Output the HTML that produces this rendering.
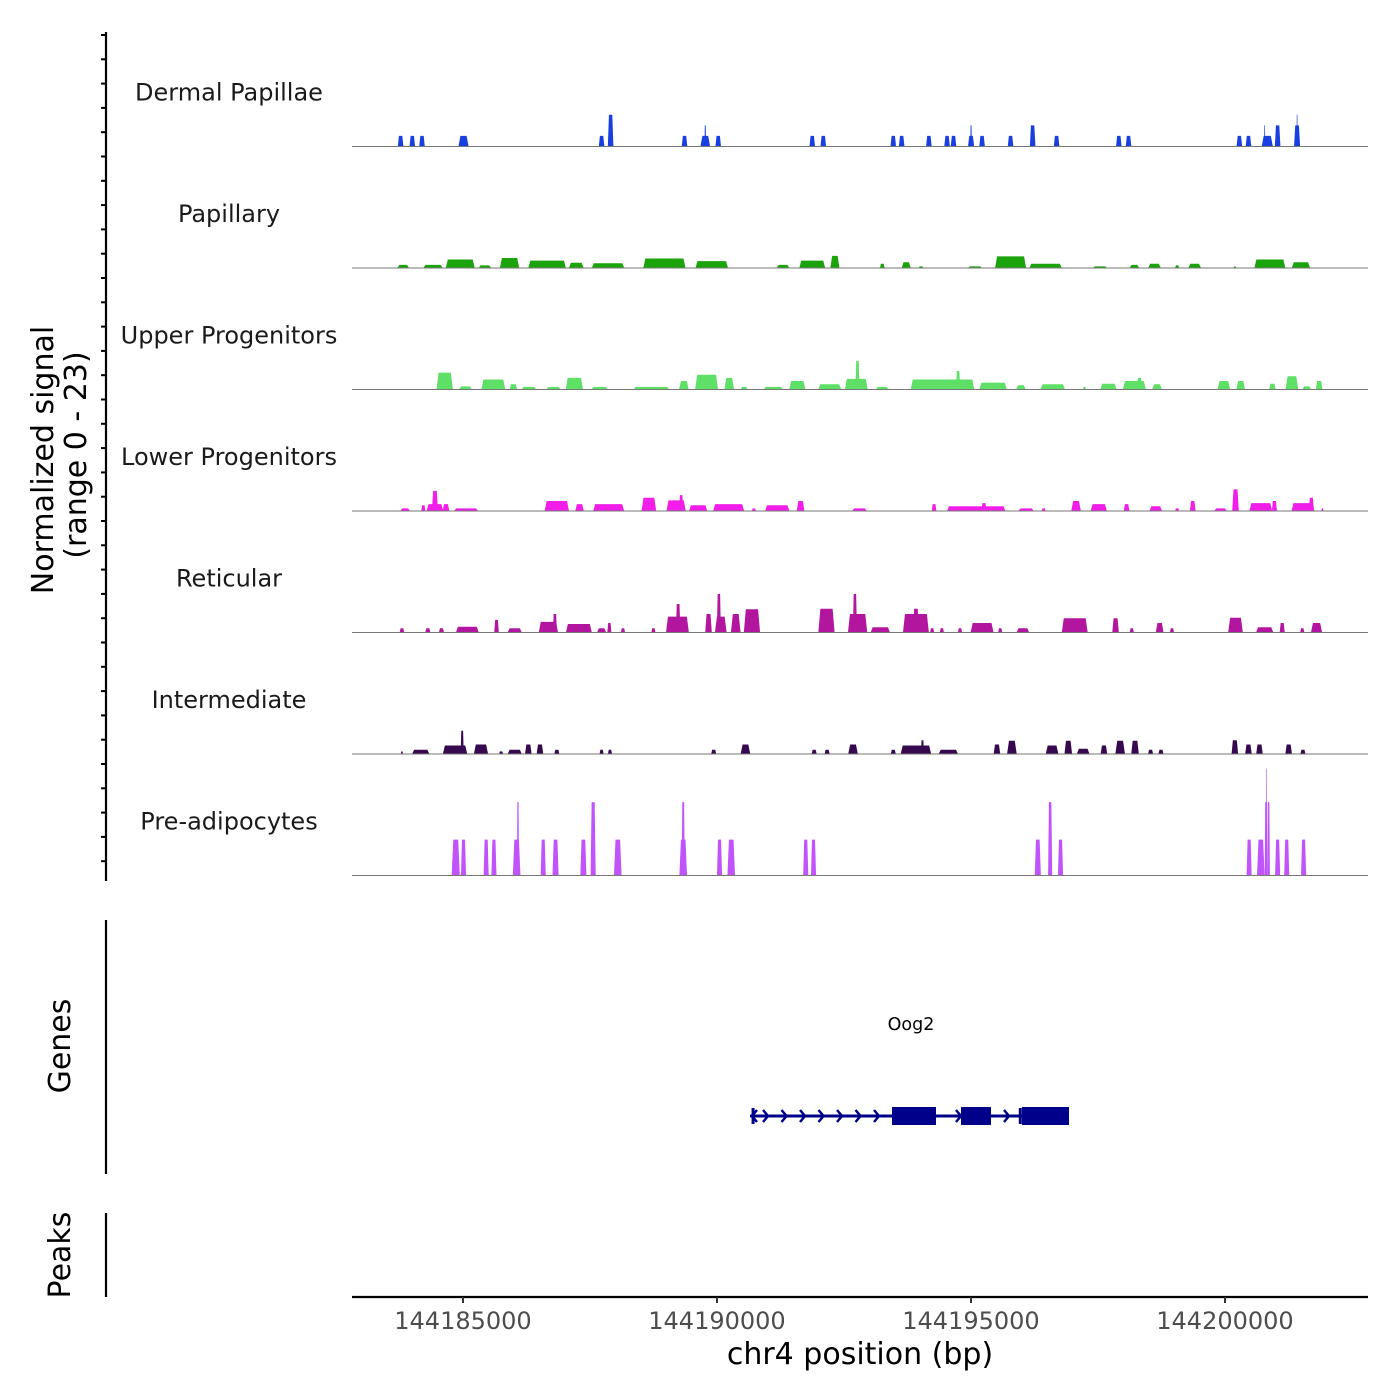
<!DOCTYPE html>
<html><head><meta charset="utf-8"><style>
html,body{margin:0;padding:0;background:#fff;width:1400px;height:1400px;overflow:hidden}
svg{display:block;font-family:"DejaVu Sans","Liberation Sans",sans-serif}
</style></head><body>
<svg id="chart" width="1400" height="1400" xmlns="http://www.w3.org/2000/svg"></svg>
<script>
// region and axis data
const regionStart = 144182815;
const regionEnd = 144202815;
const xTicks = [144185000, 144190000, 144195000, 144200000];
const yMax = 23;
const trackNames = ["Dermal Papillae","Papillary","Upper Progenitors","Lower Progenitors","Reticular","Intermediate","Pre-adipocytes"];
const trackColors = ["#1a3fe0","#1aa30a","#5ee066","#f01ee8","#b3169e","#36094f","#c153fa"];
// peaks per track: [offset bp from regionStart (center), width bp, value]
const dermalPeaks = [[957,110,2],[1187,110,2],[1378,110,2],[2195,200,2],[4913,110,2],[5091,110,6],[6546,110,2],[6954,190,2],[6954,30,4],[7209,110,2],[9060,110,2],[9277,110,2],[10655,110,2],[10820,110,2],[11356,110,2],[11714,110,2],[11841,110,2],[12186,120,2],[12186,30,4],[12403,110,2],[12964,110,2],[13398,110,4],[13870,110,2],[15095,110,2],[15286,110,2],[17468,110,2],[17647,110,2],[18017,220,2],[17966,20,4],[18221,110,4],[18604,120,4],[18604,20,6]];
const papillaryPeaks = [[1008,230,0.6],[1595,380,0.6],[2131,570,1.6],[2616,250,0.5],[3101,380,1.9],[3841,740,1.4],[4415,290,1.0],[5040,640,0.9],[6150,830,1.8],[7082,640,1.3],[8485,250,0.6],[9060,510,1.4],[9506,180,2.3],[10438,90,0.8],[10910,180,1.1],[11203,90,0.3],[12262,280,0.3],[12964,610,2.2],[13653,640,0.8],[14725,280,0.3],[15401,190,0.6],[15797,250,0.8],[16243,80,0.5],[16588,250,0.8],[17379,50,0.3],[18068,610,1.6],[18680,360,1.1]];
const upperPeaks = [[1825,320,3.2],[2233,250,0.6],[2782,470,1.9],[3177,150,1.0],[3483,290,0.5],[3968,280,0.5],[4377,340,2.2],[4874,320,0.5],[5895,700,0.5],[6533,190,1.6],[6980,450,2.8],[7426,190,2.2],[7720,130,0.5],[8294,380,0.5],[8766,320,1.6],[9404,450,1.0],[9927,450,2.0],[9950,80,5.4],[10438,250,0.5],[11624,1250,1.9],[11931,80,3.5],[12620,540,1.3],[13168,190,0.8],[13794,480,1.0],[14419,60,0.5],[14891,320,1.1],[15401,450,1.6],[15500,100,2.2],[15848,190,1.0],[17162,250,1.6],[17494,170,1.6],[18119,130,1.1],[18502,250,2.5],[18795,170,0.6],[19038,130,1.6]];
const lowerPeaks = [[1046,190,0.5],[1404,80,1.1],[1633,330,1.3],[1633,120,3.8],[1850,130,1.3],[2246,470,0.5],[4032,480,1.9],[4479,170,1.3],[5053,610,1.3],[5844,290,2.5],[6380,380,2.0],[6480,80,3.0],[6814,360,1.1],[7414,610,1.3],[7911,80,0.5],[8371,480,1.1],[8830,150,1.9],[9991,290,0.5],[11458,90,1.3],[12288,1150,0.9],[12440,100,1.5],[13270,300,0.5],[13615,80,0.5],[14253,190,1.9],[14700,320,1.3],[15248,110,1.3],[15822,250,0.9],[16243,80,0.5],[16550,110,1.9],[17098,250,0.5],[17392,130,4.1],[17890,450,1.5],[18158,100,1.9],[18719,450,1.5],[18885,100,2.5],[19102,40,0.5]];
const reticularPeaks = [[983,90,0.8],[1493,100,0.8],[1761,100,0.8],[2271,450,1.1],[2845,90,2.4],[3203,280,0.8],[3866,380,2.0],[3994,80,3.5],[4466,510,1.6],[4913,180,0.8],[5066,80,1.8],[5334,80,0.8],[5933,80,0.8],[6406,450,3.0],[6420,90,5.4],[7018,130,3.5],[7260,230,3.0],[7222,80,7.3],[7554,190,3.5],[7873,320,4.4],[9340,320,4.5],[9953,380,3.5],[9900,80,7.3],[10399,380,1.0],[11101,510,3.5],[11101,120,4.5],[11420,80,0.8],[11612,80,0.8],[11969,80,0.8],[12403,450,1.8],[12760,80,0.8],[13206,250,0.8],[14227,510,2.7],[15031,130,2.7],[15350,80,0.8],[15899,150,1.8],[16141,80,0.8],[17392,290,2.8],[17966,340,1.0],[18311,100,1.8],[18706,80,0.8],[18987,220,1.8]];
const intermediatePeaks = [[983,40,0.5],[1353,340,0.8],[2029,480,1.6],[2169,60,4.4],[2539,280,1.8],[2935,80,0.5],[3203,280,0.8],[3471,130,1.8],[3700,130,1.8],[4032,100,0.8],[4913,80,0.8],[5078,80,0.8],[7120,100,0.8],[7745,190,1.8],[9098,100,0.8],[9353,100,0.8],[9863,190,1.8],[10655,100,0.8],[11101,600,1.6],[11229,60,2.6],[11739,380,0.8],[12696,130,1.8],[12990,190,2.5],[13781,250,1.6],[14100,150,2.5],[14393,250,1.0],[14802,130,1.6],[15121,190,2.5],[15414,150,2.5],[15720,100,0.8],[15924,100,0.8],[17379,130,2.6],[17647,130,1.8],[17864,130,1.8],[18438,130,1.8],[18719,100,0.8]];
const preadipPeaks = [[2042,160,6.8],[2195,100,6.8],[2641,100,6.8],[2794,100,6.8],[3241,150,6.8],[3267,40,13.9],[3764,100,6.8],[4007,120,6.8],[4555,120,6.8],[4747,100,13.9],[5232,150,6.8],[6520,150,6.8],[6520,60,13.9],[7235,100,6.8],[7465,150,6.8],[8932,100,6.8],[9085,100,6.8],[13500,120,6.8],[13743,80,13.9],[13947,100,6.8],[17660,100,6.8],[17890,150,6.8],[17992,50,13.9],[18005,20,20.2],[18043,50,13.9],[18221,100,6.8],[18400,100,6.8],[18732,100,6.8]];
const allPeaks = [dermalPeaks,papillaryPeaks,upperPeaks,lowerPeaks,reticularPeaks,intermediatePeaks,preadipPeaks];
// gene model (bp)
const geneName = "Oog2";
const geneStart = 144190650;
const geneEnd = 144196929;
const geneExons = [[144193445,144194311],[144194803,144195394],[144196004,144196929]];
const geneTicks = [144190710,144195970];

const NS="http://www.w3.org/2000/svg";
const svg=document.getElementById('chart');
const X0=352,X1=1368;
function xs(bp){return X0+(bp-regionStart)/(regionEnd-regionStart)*(X1-X0);}
const trackTop=25, trackH=121.5;
function ys(i,v){const base=trackTop+trackH*(i+1);return base-v/yMax*trackH;}
function mk(tag,attrs,parent){const e=document.createElementNS(NS,tag);for(const k in attrs)e.setAttribute(k,attrs[k]);(parent||svg).appendChild(e);return e;}

// left axis
mk('line',{x1:106,y1:32,x2:106,y2:881,stroke:'#000','stroke-width':2.2});
for(let y=35;y<=880;y+=24.3){mk('line',{x1:101,y1:y,x2:106,y2:y,stroke:'#000','stroke-width':2});}
const yt1=mk('text',{x:0,y:0,'font-size':30,'text-anchor':'middle',transform:'translate(53,460) rotate(-90)',fill:'#000'});
yt1.textContent='Normalized signal';


const yt2=mk('text',{x:0,y:0,'font-size':30,'text-anchor':'middle',transform:'translate(86,455) rotate(-90)',fill:'#000'});
yt2.textContent='(range 0 - 23)';



allPeaks.forEach((peaks,i)=>{
  const g=mk('g',{});
  
  
  const base=ys(i,0);
  const lbl=mk('text',{x:229,y:base-46,'font-size':24,'text-anchor':'middle',fill:'#1a1a1a'},g);
  lbl.textContent=trackNames[i];
  
  
  peaks.forEach(p=>{
    const l=xs(regionStart+p[0]-p[1]/2), r=xs(regionStart+p[0]+p[1]/2);
    const w=r-l, t=ys(i,p[2]), s=Math.min(w*0.2,2);
    const poly=mk('polygon',{points:`${l},${base} ${l+s},${t} ${r-s},${t} ${r},${base}`,fill:trackColors[i]},g);
    
    
  });
  mk('line',{x1:X0,y1:base,x2:X1,y2:base,stroke:'#777','stroke-width':1},g);
});

// genes panel
mk('line',{x1:106,y1:920,x2:106,y2:1174,stroke:'#000','stroke-width':2.2});
const gl=mk('text',{x:0,y:0,'font-size':30,'text-anchor':'middle',transform:'translate(70,1046) rotate(-90)'});
gl.textContent='Genes';


const gg=mk('g',{});


const gy=1116, gc='#00008b';
mk('line',{x1:xs(geneStart),y1:gy,x2:xs(geneEnd),y2:gy,stroke:gc,'stroke-width':3},gg);
for(let x=xs(geneStart)+18;x<xs(geneExons[0][0]);x+=18.5){mk('polyline',{points:`${x-5},${gy-6} ${x},${gy} ${x-5},${gy+6}`,fill:'none',stroke:gc,'stroke-width':2.5},gg);}
[xs(geneExons[0][1])+25,xs(geneExons[1][1])+18].forEach(x=>mk('polyline',{points:`${x-5},${gy-6} ${x},${gy} ${x-5},${gy+6}`,fill:'none',stroke:gc,'stroke-width':2.5},gg));
mk('polyline',{points:`${xs(geneStart)+7},${gy-6} ${xs(geneStart)+2},${gy} ${xs(geneStart)+7},${gy+6}`,fill:'none',stroke:gc,'stroke-width':2.5},gg);
geneTicks.forEach(b=>mk('line',{x1:xs(b),y1:gy-8,x2:xs(b),y2:gy+8,stroke:gc,'stroke-width':3},gg));
geneExons.forEach(e=>{const r=mk('rect',{x:xs(e[0]),y:gy-9,width:xs(e[1])-xs(e[0]),height:18,fill:gc},gg);
  
  });
const gn=mk('text',{x:911,y:1030,'font-size':17.5,'text-anchor':'middle',fill:'#000'},gg);
gn.textContent=geneName;



// peaks panel
mk('line',{x1:106,y1:1213,x2:106,y2:1297,stroke:'#000','stroke-width':2.2});
const pl=mk('text',{x:0,y:0,'font-size':30,'text-anchor':'middle',transform:'translate(70,1255) rotate(-90)'});
pl.textContent='Peaks';



// x axis
mk('line',{x1:X0,y1:1297,x2:X1,y2:1297,stroke:'#000','stroke-width':2.2});
xTicks.forEach(t=>{
  mk('line',{x1:xs(t),y1:1297,x2:xs(t),y2:1303,stroke:'#333','stroke-width':2});
  const tl=mk('text',{x:xs(t),y:1329,'font-size':24,'text-anchor':'middle',fill:'#4d4d4d'});
  tl.textContent=String(t);
  
  
});
const xt=mk('text',{x:860,y:1364,'font-size':30,'text-anchor':'middle',fill:'#000'});
xt.textContent='chr4 position (bp)';


</script>
</body></html>
